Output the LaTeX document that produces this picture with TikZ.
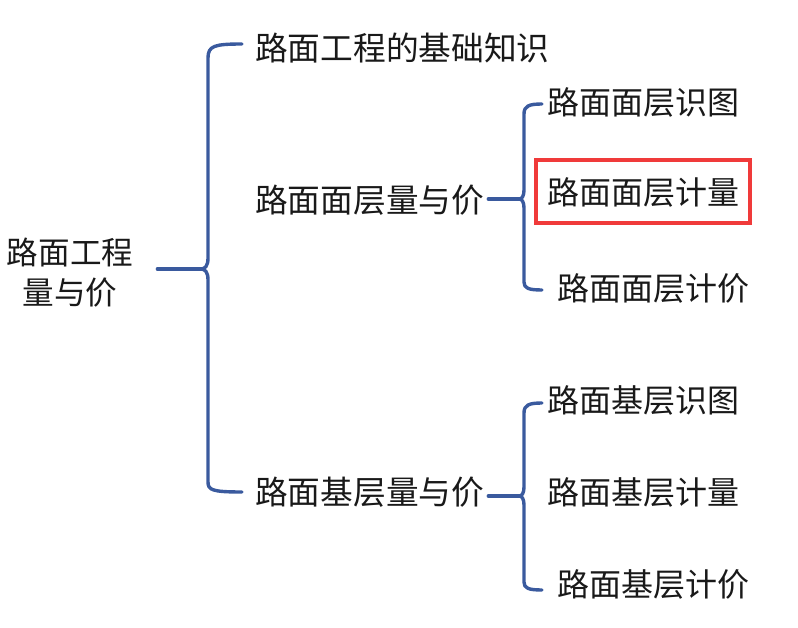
\documentclass[tikz,border=0pt]{standalone}
\usepackage{fontspec}
\setmainfont{Noto Sans CJK SC}
\usetikzlibrary{calc}
\definecolor{brk}{HTML}{3A5A9E}
\definecolor{hl}{HTML}{F03A3A}
\begin{document}
\begin{tikzpicture}[x=1pt,y=-1pt,
  txt/.style={font=\fontsize{32}{38}\selectfont, inner sep=0pt, text=black!90},
  big/.style={font=\fontsize{32.7}{39}\selectfont},
  brace/.style={draw=brk, line width=3.4pt, line cap=round, line join=round}]
\useasboundingbox (0,0) rectangle (798,628);
% root
\node[txt, align=center, font=\fontsize{31.6}{40}\selectfont] (root) at (70,273) {路面工程\\量与价};
% level 1
\node[txt, big, anchor=west] (a1) at (255,48) {路面工程的基础知识};
\node[txt, big, anchor=west] (a2) at (255,200) {路面面层量与价};
\node[txt, big, anchor=west] (a3) at (255,492) {路面基层量与价};
% level 2
\node[txt, anchor=west] (b1) at (547,102) {路面面层识图};
\node[txt, draw=hl, line width=4pt, minimum width=214pt, minimum height=63pt] (b2) at (643,192) {路面面层计量};
\node[txt, anchor=west] (b3) at (557,288) {路面面层计价};
\node[txt, anchor=west] (c1) at (547,400) {路面基层识图};
\node[txt, anchor=west] (c2) at (547,492) {路面基层计量};
\node[txt, anchor=west] (c3) at (557,584) {路面基层计价};
% big bracket
\coordinate (k0) at (201,269);
\draw[brace] ($(root.east)+(24,-4)$) -- (k0);
\draw[brace] ($(a1.west)+(-13,-4)$) .. controls (214,44) and (208,46) .. (208,58)
  -- (208,258) .. controls (208,266) and (205,269) .. (k0)
  .. controls (205,269) and (208,272) .. (208,280)
  -- (208,482) .. controls (208,490) and (212,492) .. ($(a3.west)+(-13,0)$);
% sub bracket 1
\coordinate (m0) at (519,199);
\draw[brace] ($(a2.east)+(4,-1)$) -- (m0);
\draw[brace] ($(b1.west)+(-5,2)$) .. controls (529,104) and (524,106) .. (524,114)
  -- (524,190) .. controls (524,196) and (522,199) .. (m0)
  .. controls (522,199) and (524,202) .. (524,208)
  -- (524,282) .. controls (524,288) and (528,290) .. (542,290);
% sub bracket 2
\coordinate (n0) at (519,496);
\draw[brace] ($(a3.east)+(4,4)$) -- (n0);
\draw[brace] ($(c1.west)+(-5,3)$) .. controls (529,403) and (524,405) .. (524,413)
  -- (524,487) .. controls (524,493) and (522,496) .. (n0)
  .. controls (522,496) and (524,499) .. (524,505)
  -- (524,582) .. controls (524,588) and (528,590) .. ($(c3.west)+(-15,6)$);
\end{tikzpicture}
\end{document}
